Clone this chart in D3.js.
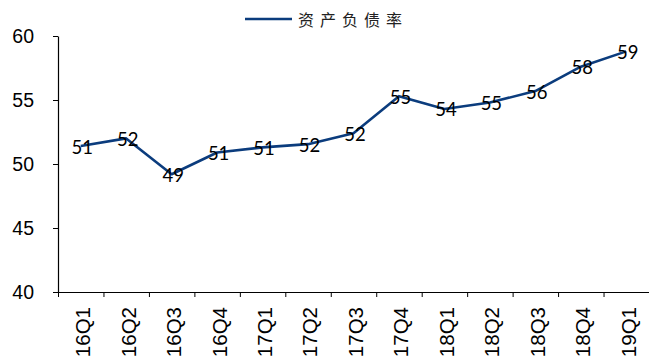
<!DOCTYPE html>
<html>
<head>
<meta charset="utf-8">
<script src="https://cdn.jsdelivr.net/npm/d3@7"></script>
<style>
  html, body { margin: 0; padding: 0; background: #fff; }
  svg { display: block; }
</style>
</head>
<body>
<svg id="chart" width="649" height="356"></svg>
<script>
const categories = ["16Q1","16Q2","16Q3","16Q4","17Q1","17Q2","17Q3","17Q4","18Q1","18Q2","18Q3","18Q4","19Q1"];
const debtRatio = [51.4, 52.0, 49.2, 50.9, 51.3, 51.55, 52.4, 55.3, 54.3, 54.8, 55.7, 57.6, 58.8];
const yTicks = [40, 45, 50, 55, 60];
const seriesName = "资产负债率";

const plotLeft = 58, plotRight = 649, plotTop = 36, plotBottom = 292;
const lineColor = "#0B3C7D";

const svg = d3.select("#chart");

const x = d3.scaleBand().domain(categories).range([plotLeft, plotRight]).padding(0);
const xEdge = d3.scaleLinear().domain([0, categories.length]).range([plotLeft, plotRight]);
const y = d3.scaleLinear().domain([40, 60]).range([plotBottom, plotTop]);

// Y axis
const yAxis = svg.append("g")
  .attr("transform", `translate(${plotLeft},0)`)
  .call(d3.axisLeft(y).tickValues(yTicks).tickSizeInner(5).tickSizeOuter(0).tickPadding(19).tickFormat(d3.format("d")));
yAxis.select(".domain").attr("stroke", "#000").attr("stroke-width", 1.2);
yAxis.selectAll(".tick line").attr("stroke", "#000");
yAxis.selectAll(".tick text")
  .attr("fill", "#000")
  .style("font-family", "'Liberation Sans', Arial, sans-serif")
  .style("font-size", "19.5px");

// X axis: boundary ticks
const xTickAxis = svg.append("g")
  .attr("transform", `translate(0,${plotBottom})`)
  .call(d3.axisBottom(xEdge).tickValues(d3.range(0, categories.length + 1)).tickSizeInner(5).tickSizeOuter(0).tickFormat(""));
xTickAxis.select(".domain").attr("stroke", "#000").attr("stroke-width", 1.2);
xTickAxis.selectAll(".tick line").attr("stroke", "#000");

// X axis: labels at band centers
const xLabelAxis = svg.append("g")
  .attr("transform", `translate(0,${plotBottom})`)
  .call(d3.axisBottom(x).tickSize(0).tickPadding(0));
xLabelAxis.select(".domain").remove();
xLabelAxis.selectAll(".tick text")
  .attr("fill", "#000")
  .style("font-family", "'Liberation Sans', Arial, sans-serif")
  .style("font-size", "20.5px")
  .attr("text-anchor", "end")
  .attr("y", 0)
  .attr("dy", "0.36em")
  .attr("transform", "translate(2,15) rotate(-90)");

// Line
const line = d3.line()
  .x((d, i) => x(categories[i]) + x.bandwidth() / 2)
  .y(d => y(d));
svg.append("path")
  .datum(debtRatio)
  .attr("fill", "none")
  .attr("stroke", lineColor)
  .attr("stroke-width", 2.6)
  .attr("stroke-linejoin", "round")
  .attr("d", line);

// Data labels
svg.append("g")
  .selectAll("text")
  .data(debtRatio)
  .join("text")
  .attr("x", (d, i) => x(categories[i]) + x.bandwidth() / 2 + 1.5)
  .attr("y", d => y(d) + 1)
  .attr("dy", "0.35em")
  .attr("text-anchor", "middle")
  .attr("fill", "#000")
  .style("font-family", "Lato, 'Noto Sans', sans-serif")
  .style("font-size", "18.5px")
  .text(d => d3.format(".0f")(d));

// Legend
const legend = svg.append("g");
legend.append("line")
  .attr("x1", 245).attr("x2", 292)
  .attr("y1", 19).attr("y2", 19)
  .attr("stroke", lineColor)
  .attr("stroke-width", 2.6);
legend.append("text")
  .attr("x", 298).attr("y", 20)
  .attr("dy", "0.35em")
  .attr("fill", "#222")
  .style("font-family", "'Noto Sans CJK SC', sans-serif")
  .style("font-size", "16px")
  .style("letter-spacing", "6px")
  .text(seriesName);
</script>
</body>
</html>
